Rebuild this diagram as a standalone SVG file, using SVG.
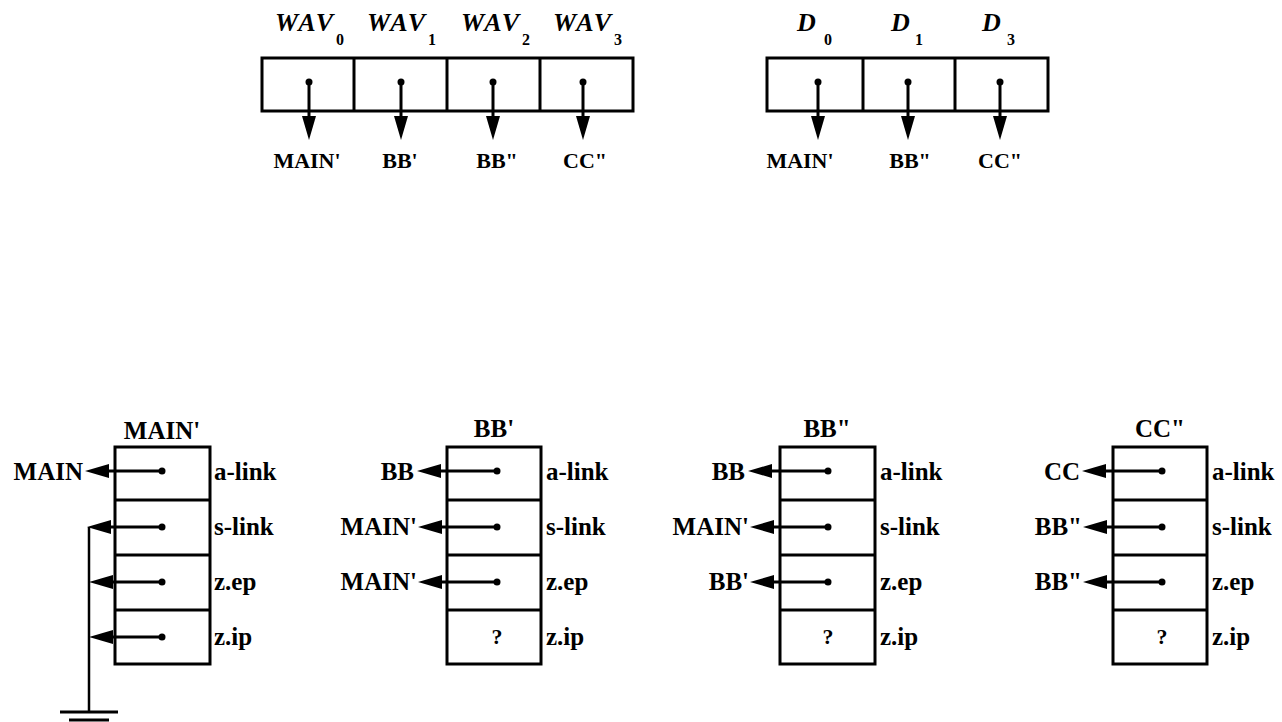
<svg xmlns="http://www.w3.org/2000/svg" width="1282" height="722" viewBox="0 0 1282 722">
  <style>
    .box { fill: none; stroke: #000; stroke-width: 3; }
    .wire { fill: none; stroke: #000; stroke-width: 3; }
    .thin { fill: none; stroke: #000; stroke-width: 2.5; }
    .dot { fill: #000; }
    text { font-family: "Liberation Serif", "DejaVu Serif", serif; font-weight: bold; fill: #000; }
    .hd { font-size: 26px; font-style: italic; }
    .sub { font-size: 16px; }
    .tgt { font-size: 22px; text-anchor: middle; }
    .lbl { font-size: 25px; }
    .ptr { font-size: 25px; text-anchor: end; }
    .ttl { font-size: 25px; text-anchor: middle; }
    .q { font-size: 22px; text-anchor: middle; }
  </style>
  <defs>
    <marker id="arrow" viewBox="0 0 24 14" refX="12" refY="7" markerWidth="24" markerHeight="14" markerUnits="userSpaceOnUse" orient="auto">
      <path d="M0,0 L24,7 L0,14 z" fill="#000"/>
    </marker>
  </defs>

  <g font-family="Liberation Serif, DejaVu Serif, serif">
  <!-- WAV vector -->
  <g id="wav">
    <rect class="box" x="262" y="58" width="371" height="53"/>
    <line class="box" x1="354" y1="58" x2="354" y2="111"/>
    <line class="box" x1="447" y1="58" x2="447" y2="111"/>
    <line class="box" x1="540" y1="58" x2="540" y2="111"/>
    <text class="hd" x="275" y="31" textLength="58" lengthAdjust="spacing">WAV</text>
    <text class="sub" x="336" y="45">0</text>
    <text class="hd" x="367" y="31" textLength="58" lengthAdjust="spacing">WAV</text>
    <text class="sub" x="428" y="45">1</text>
    <text class="hd" x="461" y="31" textLength="58" lengthAdjust="spacing">WAV</text>
    <text class="sub" x="522" y="45">2</text>
    <text class="hd" x="553" y="31" textLength="58" lengthAdjust="spacing">WAV</text>
    <text class="sub" x="614" y="45">3</text>
    <text class="tgt" x="307" y="168">MAIN'</text>
    <text class="tgt" x="400" y="168">BB'</text>
    <text class="tgt" x="497" y="168">BB"</text>
    <text class="tgt" x="585" y="168">CC"</text>
  </g>

  <!-- D vector -->
  <g id="display">
    <rect class="box" x="767" y="58" width="281" height="53"/>
    <line class="box" x1="863" y1="58" x2="863" y2="111"/>
    <line class="box" x1="955" y1="58" x2="955" y2="111"/>
    <text class="hd" x="797" y="31">D</text>
    <text class="sub" x="824" y="45">0</text>
    <text class="hd" x="891" y="31">D</text>
    <text class="sub" x="915" y="45">1</text>
    <text class="hd" x="982" y="31">D</text>
    <text class="sub" x="1007" y="45">3</text>
    <text class="tgt" x="800" y="168">MAIN'</text>
    <text class="tgt" x="910" y="168">BB"</text>
    <text class="tgt" x="1000" y="168">CC"</text>
  </g>

  <!-- activation record MAIN' -->
  <g id="main-rec">
    <text class="ttl" x="162" y="439">MAIN'</text>
    <rect class="box" x="115" y="447" width="95" height="217"/>
    <line class="box" x1="115" y1="500" x2="210" y2="500"/>
    <line class="box" x1="115" y1="555" x2="210" y2="555"/>
    <line class="box" x1="115" y1="610" x2="210" y2="610"/>
    <text class="lbl" x="214" y="480">a-link</text>
    <text class="lbl" x="214" y="535">s-link</text>
    <text class="lbl" x="214" y="590">z.ep</text>
    <text class="lbl" x="214" y="645">z.ip</text>
    <text class="ptr" x="83" y="480">MAIN</text>
  </g>

  <!-- activation record BB' -->
  <g id="bb1-rec">
    <text class="ttl" x="494" y="437">BB'</text>
    <rect class="box" x="447" y="447" width="94" height="217"/>
    <line class="box" x1="447" y1="500" x2="541" y2="500"/>
    <line class="box" x1="447" y1="555" x2="541" y2="555"/>
    <line class="box" x1="447" y1="610" x2="541" y2="610"/>
    <text class="lbl" x="546" y="480">a-link</text>
    <text class="lbl" x="546" y="535">s-link</text>
    <text class="lbl" x="546" y="590">z.ep</text>
    <text class="lbl" x="546" y="645">z.ip</text>
    <text class="q" x="497" y="644">?</text>
    <text class="ptr" x="414" y="480">BB</text>
    <text class="ptr" x="417" y="535">MAIN'</text>
    <text class="ptr" x="417" y="590">MAIN'</text>
  </g>

  <!-- activation record BB" -->
  <g id="bb2-rec">
    <text class="ttl" x="827" y="437">BB"</text>
    <rect class="box" x="780" y="447" width="95" height="217"/>
    <line class="box" x1="780" y1="500" x2="875" y2="500"/>
    <line class="box" x1="780" y1="555" x2="875" y2="555"/>
    <line class="box" x1="780" y1="610" x2="875" y2="610"/>
    <text class="lbl" x="880" y="480">a-link</text>
    <text class="lbl" x="880" y="535">s-link</text>
    <text class="lbl" x="880" y="590">z.ep</text>
    <text class="lbl" x="880" y="645">z.ip</text>
    <text class="q" x="828" y="644">?</text>
    <text class="ptr" x="745" y="480">BB</text>
    <text class="ptr" x="749" y="535">MAIN'</text>
    <text class="ptr" x="749" y="590">BB'</text>
  </g>

  <!-- activation record CC" -->
  <g id="cc2-rec">
    <text class="ttl" x="1160" y="437">CC"</text>
    <rect class="box" x="1113" y="447" width="94" height="217"/>
    <line class="box" x1="1113" y1="500" x2="1207" y2="500"/>
    <line class="box" x1="1113" y1="555" x2="1207" y2="555"/>
    <line class="box" x1="1113" y1="610" x2="1207" y2="610"/>
    <text class="lbl" x="1212" y="480">a-link</text>
    <text class="lbl" x="1212" y="535">s-link</text>
    <text class="lbl" x="1212" y="590">z.ep</text>
    <text class="lbl" x="1212" y="645">z.ip</text>
    <text class="q" x="1162" y="644">?</text>
    <text class="ptr" x="1080" y="480">CC</text>
    <text class="ptr" x="1082" y="535">BB"</text>
    <text class="ptr" x="1082" y="590">BB"</text>
  </g>
  </g>

  <!-- nil pointer (ground) -->
  <g id="nil">
    <line class="thin" x1="89" y1="527" x2="89" y2="712"/>
    <line class="box" x1="60" y1="712" x2="118" y2="712"/>
    <line class="box" x1="69" y1="720" x2="109" y2="720"/>
  </g>

  <!-- pointers -->
  <g id="connectors">
    <!-- WAV cells -->
    <circle class="dot" cx="309" cy="82" r="3.5"/>
    <line class="wire" x1="309" y1="82" x2="309" y2="128" marker-end="url(#arrow)"/>
    <circle class="dot" cx="401" cy="82" r="3.5"/>
    <line class="wire" x1="401" y1="82" x2="401" y2="128" marker-end="url(#arrow)"/>
    <circle class="dot" cx="493" cy="82" r="3.5"/>
    <line class="wire" x1="493" y1="82" x2="493" y2="128" marker-end="url(#arrow)"/>
    <circle class="dot" cx="583" cy="82" r="3.5"/>
    <line class="wire" x1="583" y1="82" x2="583" y2="128" marker-end="url(#arrow)"/>
    <!-- D cells -->
    <circle class="dot" cx="818" cy="82" r="3.5"/>
    <line class="wire" x1="818" y1="82" x2="818" y2="128" marker-end="url(#arrow)"/>
    <circle class="dot" cx="908" cy="82" r="3.5"/>
    <line class="wire" x1="908" y1="82" x2="908" y2="128" marker-end="url(#arrow)"/>
    <circle class="dot" cx="1000" cy="82" r="3.5"/>
    <line class="wire" x1="1000" y1="82" x2="1000" y2="128" marker-end="url(#arrow)"/>

    <!-- MAIN' -->
    <circle class="dot" cx="162" cy="471" r="3.5"/>
    <line class="wire" x1="162" y1="471" x2="97" y2="471" marker-end="url(#arrow)"/>
    <circle class="dot" cx="162" cy="527" r="3.5"/>
    <line class="wire" x1="162" y1="527" x2="99" y2="527" marker-end="url(#arrow)"/>
    <circle class="dot" cx="162" cy="582" r="3.5"/>
    <line class="wire" x1="162" y1="582" x2="101" y2="582" marker-end="url(#arrow)"/>
    <circle class="dot" cx="162" cy="637" r="3.5"/>
    <line class="wire" x1="162" y1="637" x2="101" y2="637" marker-end="url(#arrow)"/>

    <!-- BB' -->
    <circle class="dot" cx="497" cy="471" r="3.5"/>
    <line class="wire" x1="497" y1="471" x2="429" y2="471" marker-end="url(#arrow)"/>
    <circle class="dot" cx="497" cy="527" r="3.5"/>
    <line class="wire" x1="497" y1="527" x2="430" y2="527" marker-end="url(#arrow)"/>
    <circle class="dot" cx="497" cy="582" r="3.5"/>
    <line class="wire" x1="497" y1="582" x2="430" y2="582" marker-end="url(#arrow)"/>

    <!-- BB" -->
    <circle class="dot" cx="828" cy="471" r="3.5"/>
    <line class="wire" x1="828" y1="471" x2="760" y2="471" marker-end="url(#arrow)"/>
    <circle class="dot" cx="828" cy="527" r="3.5"/>
    <line class="wire" x1="828" y1="527" x2="762" y2="527" marker-end="url(#arrow)"/>
    <circle class="dot" cx="828" cy="582" r="3.5"/>
    <line class="wire" x1="828" y1="582" x2="762" y2="582" marker-end="url(#arrow)"/>

    <!-- CC" -->
    <circle class="dot" cx="1162" cy="471" r="3.5"/>
    <line class="wire" x1="1162" y1="471" x2="1094" y2="471" marker-end="url(#arrow)"/>
    <circle class="dot" cx="1162" cy="527" r="3.5"/>
    <line class="wire" x1="1162" y1="527" x2="1095" y2="527" marker-end="url(#arrow)"/>
    <circle class="dot" cx="1162" cy="582" r="3.5"/>
    <line class="wire" x1="1162" y1="582" x2="1095" y2="582" marker-end="url(#arrow)"/>
  </g>
</svg>
